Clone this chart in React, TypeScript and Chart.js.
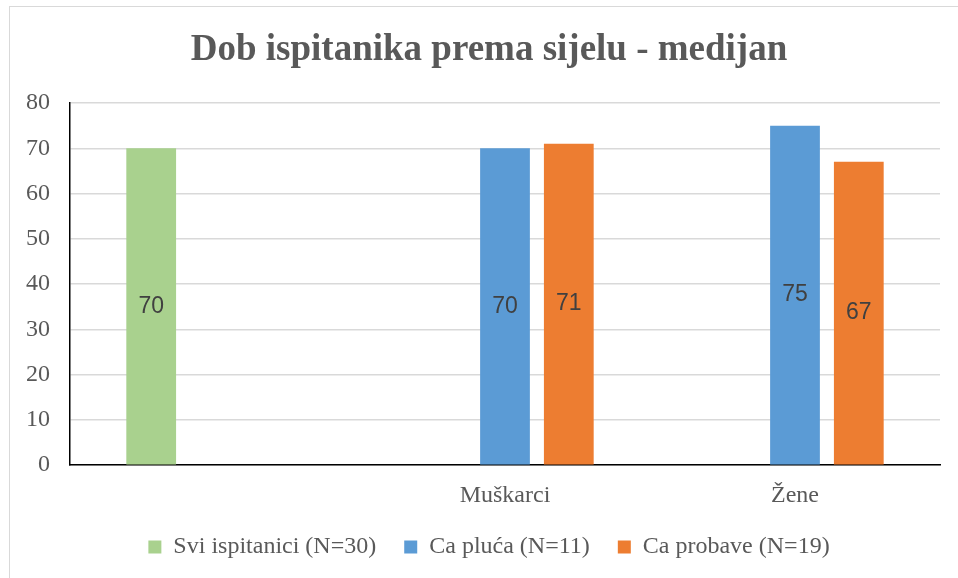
import React, { useEffect, useRef } from "react";
import { Chart, registerables } from "chart.js";

Chart.register(...registerables);

const TITLE = "Dob ispitanika prema sijelu - medijan";
const CATEGORIES = ["", "Muškarci", "Žene"];
const SERIES_NAMES = ["Svi ispitanici (N=30)", "Ca pluća (N=11)", "Ca probave (N=19)"];
const SVI = [70, null, null];
const PLUCA = [null, 70, 75];
const PROBAVE = [null, 71, 67];
const COLORS = ["#A9D18E", "#5B9BD5", "#ED7D31"];
const Y_MIN = 0;
const Y_MAX = 80;
const Y_STEP = 10;

const SERIF = "'Liberation Serif', 'Times New Roman', serif";
const SANS = "'Liberation Sans', Arial, sans-serif";

const valueLabels = {
  id: "valueLabels",
  afterDatasetsDraw(chart: any) {
    const ctx = chart.ctx;
    ctx.save();
    ctx.font = `23px ${SANS}`;
    ctx.fillStyle = "#404040";
    ctx.textAlign = "center";
    ctx.textBaseline = "middle";
    chart.data.datasets.forEach((ds: any, i: number) => {
      const meta = chart.getDatasetMeta(i);
      meta.data.forEach((el: any, j: number) => {
        const v = ds.data[j];
        if (v === null || v === undefined) return;
        const p = el.getProps(["x", "y", "base"], true);
        ctx.fillText(String(v), p.x, (p.y + p.base) / 2);
      });
    });
    ctx.restore();
  },
};

export default function App() {
  const ref = useRef<HTMLCanvasElement>(null);
  useEffect(() => {
    if (!ref.current) return;
    const chart = new Chart(ref.current, {
      type: "bar",
      data: {
        labels: CATEGORIES,
        datasets: [
          { label: SERIES_NAMES[0], data: SVI, backgroundColor: COLORS[0] },
          { label: SERIES_NAMES[1], data: PLUCA, backgroundColor: COLORS[1] },
          { label: SERIES_NAMES[2], data: PROBAVE, backgroundColor: COLORS[2] },
        ],
      },
      options: {
        animation: false,
        responsive: false,
        maintainAspectRatio: false,
        layout: { padding: { left: 38, right: 18, top: 0, bottom: 9 } },
        datasets: { bar: { barPercentage: 0.78, categoryPercentage: 0.66 } },
        plugins: {
          tooltip: { enabled: false },
          title: {
            display: true,
            text: TITLE,
            color: "#595959",
            font: { family: SERIF, size: 37, weight: "bold" },
            padding: { top: 28, bottom: 30.6 },
          },
          legend: {
            position: "bottom",
            labels: {
              color: "#595959",
              font: { family: SERIF, size: 24 },
              boxWidth: 13,
              boxHeight: 13,
              padding: 28,
            },
          },
        },
        scales: {
          x: {
            grid: { display: false, drawTicks: false },
            border: { color: "#000000", width: 1.5 },
            ticks: { color: "#595959", font: { family: SERIF, size: 24 }, padding: 16 },
            afterFit: (s: any) => {
              s.height = s.height - 19;
            },
          },
          y: {
            min: Y_MIN,
            max: Y_MAX,
            grid: { color: "#d9d9d9", lineWidth: 1.5, drawTicks: false },
            border: { color: "#000000", width: 1.5 },
            ticks: { stepSize: Y_STEP, color: "#595959", font: { family: SERIF, size: 24 }, padding: 20 },
            afterFit: (s: any) => {
              s.width = 32;
              s._computeLabelArea = () => undefined;
            },
          },
        },
      },
      plugins: [valueLabels],
    });
    return () => chart.destroy();
  }, []);
  return (
    <div style={{ position: "fixed", left: 0, top: 0, width: 958, height: 578, background: "#fff", overflow: "hidden" }}>
      <div
        style={{
          position: "absolute",
          left: 9,
          top: 6,
          width: 1000,
          height: 1000,
          borderLeft: "1.5px solid #d9d9d9",
          borderTop: "1.5px solid #d9d9d9",
        }}
      />
      <canvas ref={ref} width={958} height={578} style={{ position: "absolute", left: 0, top: 0 }} />
    </div>
  );
}
